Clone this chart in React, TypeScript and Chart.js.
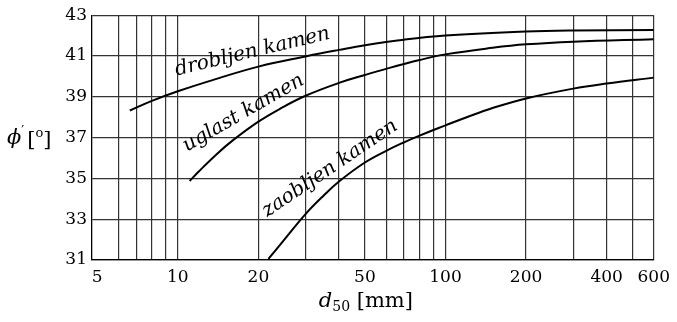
import React, { useEffect, useRef } from "react";
import { Chart, registerables } from "chart.js";

Chart.register(...registerables);

// ---- data ----
const xMin = 4.78;
const xMax = 600;
const yMin = 31;
const yMax = 43;
const xGridValues = [5, 6, 7, 8, 9, 10, 20, 30, 40, 50, 60, 70, 80, 90, 100, 200, 300, 400, 500, 600];
const xLabelValues = [5, 10, 20, 50, 100, 200, 400, 600];
const yLabelValues = [31, 33, 35, 37, 39, 41, 43];

const drobljenX = [6.62, 8, 10, 13.1, 20, 30, 40, 50, 70, 100, 200, 300, 600];
const drobljenY = [38.33, 38.8, 39.27, 39.77, 40.48, 40.98, 41.3, 41.53, 41.8, 42.0, 42.2, 42.25, 42.27];

const uglastX = [11.07, 12, 14, 16, 20, 24, 30, 40, 50, 60, 80, 100, 150, 200, 300, 600];
const uglastY = [34.87, 35.35, 36.2, 36.85, 37.78, 38.4, 39.05, 39.68, 40.07, 40.37, 40.8, 41.08, 41.4, 41.57, 41.7, 41.82];

const zaobljenX = [21.8, 25, 30, 35, 40, 50, 60, 70, 80, 100, 120, 150, 200, 300, 400, 600];
const zaobljenY = [31.05, 32.0, 33.25, 34.15, 34.85, 35.78, 36.35, 36.77, 37.1, 37.6, 38.0, 38.45, 38.92, 39.4, 39.65, 39.94];

const curveLabels = ["drobljen kamen", "uglast kamen", "zaobljen kamen"];
const curveLabelX = [19.2, 18.0, 38.0];
const curveLabelY = [40.95, 37.98, 35.27];
const curveLabelAngle = [-13.5, -30, -34];

const FONT = "'DejaVu Serif', serif";

const toPoints = (xs: number[], ys: number[]) => xs.map((x, i) => ({ x, y: ys[i] }));

const textPlugin = {
  id: "texts",
  afterDatasetsDraw(chart: any) {
    const { ctx, chartArea, scales } = chart;
    ctx.save();
    ctx.fillStyle = "#000";
    // curve labels
    ctx.font = `italic 20px ${FONT}`;
    ctx.textAlign = "center";
    ctx.textBaseline = "alphabetic";
    curveLabels.forEach((t, i) => {
      const px = scales.x.getPixelForValue(curveLabelX[i]);
      const py = scales.y.getPixelForValue(curveLabelY[i]);
      ctx.save();
      ctx.translate(px, py);
      ctx.rotate((curveLabelAngle[i] * Math.PI) / 180);
      ctx.fillText(t, 0, 0);
      ctx.restore();
    });

    ctx.textAlign = "left";
    // x axis title: d_50 [mm]
    const big = `21px ${FONT}`;
    const bigI = `italic 21px ${FONT}`;
    const small = `14px ${FONT}`;
    ctx.font = bigI;
    const wd = ctx.measureText("d").width;
    ctx.font = small;
    const w50 = ctx.measureText("50").width;
    ctx.font = big;
    const wmm = ctx.measureText(" [mm]").width;
    const total = wd + w50 + wmm;
    const cx = (chartArea.left + chartArea.right) / 2 - 7;
    let x = cx - total / 2;
    const by = chartArea.bottom + 47;
    ctx.font = bigI;
    ctx.fillText("d", x, by);
    x += wd;
    ctx.font = small;
    ctx.fillText("50", x, by + 4);
    x += w50;
    ctx.font = big;
    ctx.fillText(" [mm]", x, by);

    // y axis title: ϕ′ [°]
    const yb = (chartArea.top + chartArea.bottom) / 2 + 6;
    let yx = 7;
    ctx.font = bigI;
    ctx.fillText("ϕ", yx, yb);
    yx += ctx.measureText("ϕ").width;
    ctx.font = `13px ${FONT}`;
    ctx.fillText("′", yx, yb - 9);
    yx += ctx.measureText("′").width + 3;
    ctx.font = big;
    ctx.fillText("[", yx, yb + 2);
    yx += ctx.measureText("[").width;
    ctx.font = `13px ${FONT}`;
    ctx.fillText("o", yx, yb - 7);
    yx += ctx.measureText("o").width;
    ctx.font = big;
    ctx.fillText("]", yx, yb + 2);
    ctx.restore();
  },
};

export default function App() {
  const ref = useRef<HTMLCanvasElement | null>(null);
  useEffect(() => {
    if (!ref.current) return;
    const line = (xs: number[], ys: number[]) => ({
      data: toPoints(xs, ys),
      borderColor: "#000",
      borderWidth: 2,
      pointRadius: 0,
      fill: false,
      tension: 0.4,
    });
    const chart = new Chart(ref.current, {
      type: "line",
      data: {
        datasets: [line(drobljenX, drobljenY), line(uglastX, uglastY), line(zaobljenX, zaobljenY)],
      },
      options: {
        animation: false,
        responsive: true,
        maintainAspectRatio: false,
        layout: { padding: { top: 14, right: 21, left: 0, bottom: 0 } },
        plugins: { legend: { display: false }, tooltip: { enabled: false } },
        scales: {
          x: {
            type: "logarithmic",
            min: xMin,
            max: xMax,
            afterBuildTicks: (scale: any) => {
              scale.ticks = xGridValues.map((v) => ({ value: v }));
            },
            afterFit: (scale: any) => {
              scale.height = 62;
            },
            ticks: {
              autoSkip: false,
              maxRotation: 0,
              padding: 7,
              color: "#000",
              font: { family: FONT, size: 17 },
              callback: (v: any) => (xLabelValues.includes(Number(v)) ? String(v) : ""),
            },
            grid: {
              drawTicks: false,
              color: (c: any) => (c.tick && c.tick.value === 5 ? "rgba(0,0,0,0)" : "#333"),
              lineWidth: 1.2,
            },
            border: { display: true, color: "#000", width: 1.3 },
          },
          y: {
            type: "linear",
            min: yMin,
            max: yMax,
            afterFit: (scale: any) => {
              scale.width = 92;
            },
            ticks: {
              stepSize: 1,
              padding: 5,
              color: "#000",
              font: { family: FONT, size: 17 },
              callback: (v: any) => (yLabelValues.includes(Number(v)) ? String(v) : ""),
            },
            grid: { drawTicks: false, color: "#333", lineWidth: 1.2 },
            border: { display: true, color: "#000", width: 1.3 },
          },
        },
      },
      plugins: [textPlugin],
    });
    return () => chart.destroy();
  }, []);
  return (
    <div style={{ position: "fixed", left: 0, top: 0, width: 677, height: 322, background: "#fff" }}>
      <canvas ref={ref} />
    </div>
  );
}
